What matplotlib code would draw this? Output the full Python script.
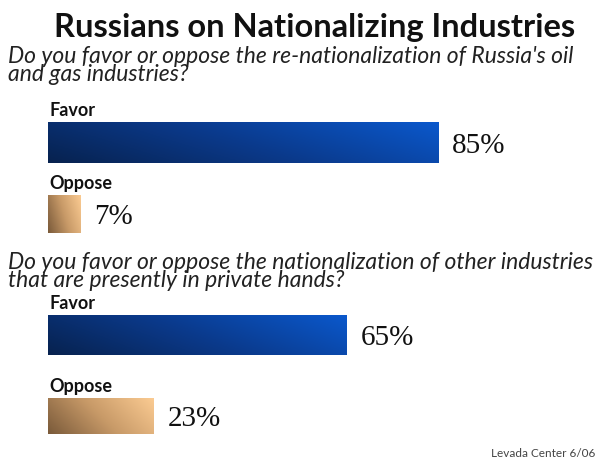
"""Russians on Nationalizing Industries — horizontal gradient bars."""

import matplotlib
matplotlib.use("Agg")
import matplotlib.pyplot as plt
import numpy as np
from matplotlib.colors import LinearSegmentedColormap

# data
title = "Russians on Nationalizing Industries"
questions = [
    "Do you favor or oppose the re-nationalization of Russia's oil\nand gas industries?",
    "Do you favor or oppose the nationalization of other industries\nthat are presently in private hands?",
]
answers = ["Favor", "Oppose"]
oil_gas = [85, 7]
other_industries = [65, 23]
source = "Levada Center 6/06"

# layout (pixel rows, figure is 605x465 at dpi 100)
W, H = 605, 465
left_px = 48
px_per_pct = 4.59
bar_rows = [(122, 163), (195, 233), (315, 355), (398, 434)]
question_y = [46, 252]

blue = LinearSegmentedColormap.from_list("blue", ["#07224f", "#0b3a8c", "#0a58cc"])
tan = LinearSegmentedColormap.from_list("tan", ["#7a5a3a", "#c89a68", "#fbcb92"])

fig = plt.figure(figsize=(W / 100, H / 100), dpi=100)
ax = fig.add_axes([0, 0, 1, 1])
ax.set_xlim(-left_px / px_per_pct, (W - left_px) / px_per_pct)
ax.set_ylim(H, 0)
ax.axis("off")

fig.text(315 / W, 1 - 27 / H, title, ha="center", va="center",
         fontsize=23.5, fontweight="bold", family="Lato", color="#111111")

for q, qy in zip(questions, question_y):
    ax.text(-40 / px_per_pct, qy, q, ha="left", va="top", fontsize=16.5,
            style="italic", family="Lato", color="#222222", linespacing=0.8)

values = oil_gas + other_industries
labels = answers * 2
cmaps = [blue, tan, blue, tan]

yy, xx = np.mgrid[0:1:50j, 0:1:200j]
for val, lab, cmap, (y0, y1) in zip(values, labels, cmaps, bar_rows):
    bar = ax.barh((y0 + y1) / 2, val, height=y1 - y0, left=0,
                  color="none", edgecolor="none")[0]
    # diagonal gradient: dark bottom-left -> light top-right
    grad = 0.75 * xx + 0.25 * (1 - yy)
    im = ax.imshow(grad, cmap=cmap, extent=(0, val, y1, y0), aspect="auto",
                   interpolation="bilinear", vmin=0, vmax=1, origin="upper")
    im.set_clip_path(bar)
    ax.text(0.3, y0 - 3, lab, ha="left", va="bottom", fontsize=13,
            fontweight="bold", family="Lato", color="#111111")
    ax.text(val + 14 / px_per_pct, (y0 + y1) / 2 + 3, f"{val}%", ha="left",
            va="center", fontsize=21, family="Liberation Serif", color="#111111")

fig.text(1 - 10 / W, 1 - 453 / H, source, ha="right", va="center",
         fontsize=8.5, family="Lato", color="#444444")

fig.savefig("out.png", dpi=100, facecolor="white")
